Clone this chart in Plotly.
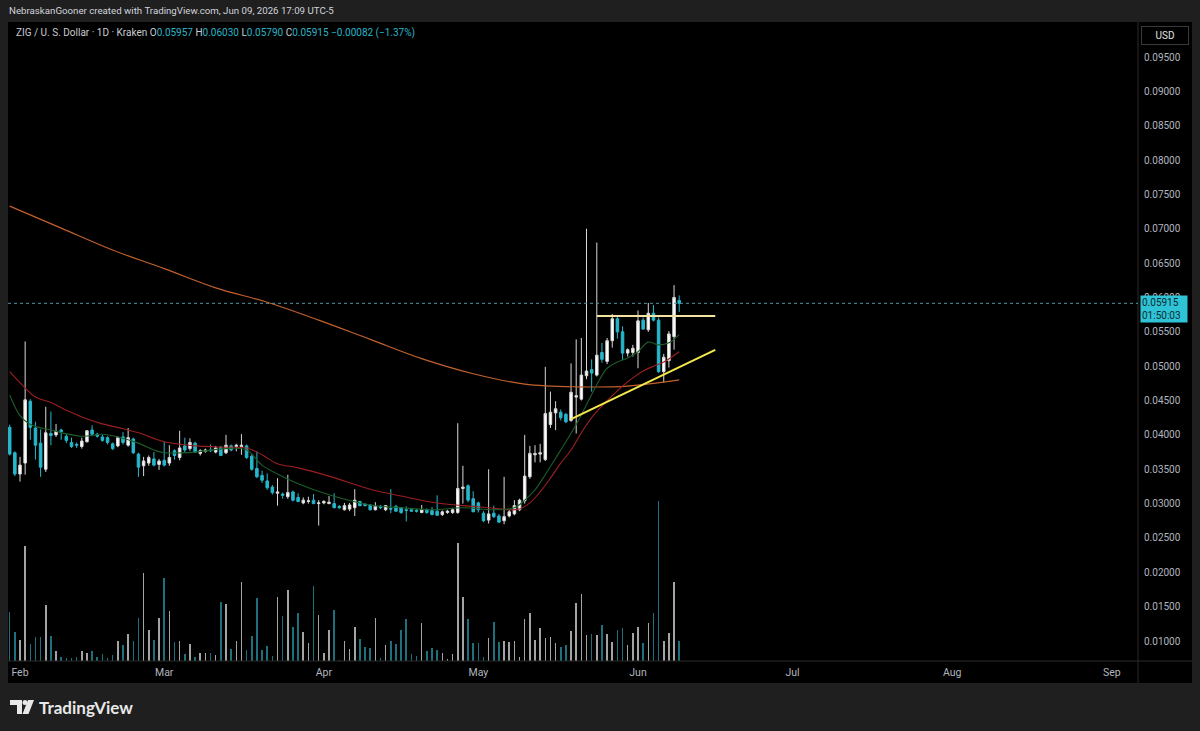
import pandas as pd
import plotly.graph_objects as go

# ---------------- data ----------------
start_date = "2026-01-30"
opens = [0.0411,0.0374,0.0343,0.0359,0.0449,0.0410,0.0388,0.0350,0.0402,0.0400,
         0.0407,0.0398,0.0389,0.0386,0.0383,0.0390,0.0407,0.0401,0.0397,0.0396,
         0.0387,0.0384,0.0397,0.0385,0.0394,0.0372,0.0355,0.0359,0.0365,0.0357,
         0.0363,0.0359,0.0377,0.0367,0.0384,0.0380,0.0388,0.0373,0.0376,0.0378,
         0.0375,0.0382,0.0374,0.0384,0.0383,0.0383,0.0384,0.0369,0.0351,0.0341,
         0.0333,0.0324,0.0315,0.0314,0.0310,0.0317,0.0309,0.0301,0.0303,0.0305,
         0.0300,0.0301,0.0300,0.0300,0.0296,0.0291,0.0292,0.0294,0.0303,0.0299,
         0.0298,0.0291,0.0296,0.0291,0.0293,0.0296,0.0294,0.0291,0.0291,0.0290,
         0.0287,0.0291,0.0290,0.0289,0.0284,0.0287,0.0287,0.0287,0.0322,0.0326,
         0.0307,0.0301,0.0286,0.0276,0.0286,0.0282,0.0275,0.0282,0.0285,0.0291,
         0.0304,0.0339,0.0371,0.0372,0.0364,0.0415,0.0432,0.0433,0.0430,0.0421,
         0.0455,0.0452,0.0486,0.0495,0.0487,0.0520,0.0507,0.0537,0.0569,0.0550,
         0.0519,0.0520,0.0520,0.0567,0.0553,0.0577,0.0567,0.0492,0.0508,0.0543,
         0.05957]
highs = [0.0415,0.0376,0.0368,0.0536,0.0452,0.0419,0.0408,0.0441,0.0434,0.0416,
         0.0409,0.0401,0.0396,0.0389,0.0396,0.0407,0.0414,0.0403,0.0400,0.0398,
         0.0389,0.0398,0.0404,0.0410,0.0396,0.0374,0.0368,0.0370,0.0375,0.0365,
         0.0390,0.0385,0.0379,0.0406,0.0396,0.0395,0.0390,0.0379,0.0380,0.0386,
         0.0384,0.0384,0.0400,0.0386,0.0387,0.0401,0.0386,0.0372,0.0376,0.0348,
         0.0344,0.0327,0.0337,0.0316,0.0342,0.0319,0.0315,0.0309,0.0310,0.0314,
         0.0305,0.0305,0.0311,0.0315,0.0298,0.0301,0.0301,0.0321,0.0304,0.0301,
         0.0299,0.0302,0.0298,0.0298,0.0321,0.0298,0.0295,0.0296,0.0293,0.0292,
         0.0298,0.0293,0.0295,0.0312,0.0290,0.0291,0.0293,0.0417,0.0355,0.0328,
         0.0318,0.0303,0.0289,0.0350,0.0297,0.0285,0.0339,0.0291,0.0305,0.0307,
         0.0400,0.0384,0.0385,0.0387,0.0499,0.0463,0.0449,0.0437,0.0432,0.0504,
         0.0539,0.0541,0.0700,0.0510,0.0680,0.0534,0.0541,0.0576,0.0572,0.0558,
         0.0526,0.0531,0.0581,0.0571,0.0592,0.0589,0.0571,0.0518,0.0551,0.0618,
         0.06030]
lows = [0.0370,0.0340,0.0332,0.0342,0.0393,0.0364,0.0339,0.0346,0.0385,0.0397,
        0.0393,0.0388,0.0381,0.0381,0.0380,0.0389,0.0398,0.0396,0.0390,0.0386,
        0.0378,0.0382,0.0386,0.0383,0.0372,0.0339,0.0340,0.0355,0.0354,0.0349,
        0.0354,0.0355,0.0364,0.0363,0.0374,0.0377,0.0374,0.0370,0.0374,0.0375,
        0.0373,0.0369,0.0372,0.0376,0.0376,0.0371,0.0365,0.0348,0.0337,0.0330,
        0.0320,0.0313,0.0297,0.0307,0.0307,0.0303,0.0302,0.0299,0.0300,0.0299,
        0.0268,0.0299,0.0299,0.0293,0.0292,0.0290,0.0289,0.0282,0.0296,0.0296,
        0.0290,0.0290,0.0292,0.0289,0.0286,0.0288,0.0285,0.0274,0.0288,0.0287,
        0.0286,0.0285,0.0283,0.0282,0.0282,0.0285,0.0285,0.0285,0.0300,0.0302,
        0.0288,0.0287,0.0273,0.0271,0.0279,0.0272,0.0270,0.0280,0.0283,0.0289,
        0.0300,0.0336,0.0360,0.0360,0.0362,0.0410,0.0407,0.0421,0.0417,0.0419,
        0.0402,0.0450,0.0481,0.0463,0.0485,0.0505,0.0503,0.0527,0.0540,0.0509,
        0.0514,0.0514,0.0497,0.0553,0.0550,0.0565,0.0490,0.0476,0.0498,0.0524,
        0.05790]
closes = [0.0372,0.0343,0.0356,0.0451,0.0411,0.0385,0.0353,0.0403,0.0399,0.0405,
          0.0405,0.0392,0.0383,0.0385,0.0391,0.0406,0.0401,0.0398,0.0392,0.0389,
          0.0380,0.0396,0.0389,0.0396,0.0374,0.0353,0.0362,0.0367,0.0356,0.0362,
          0.0356,0.0367,0.0370,0.0381,0.0378,0.0389,0.0375,0.0377,0.0378,0.0377,
          0.0381,0.0370,0.0385,0.0378,0.0385,0.0385,0.0367,0.0350,0.0339,0.0334,
          0.0323,0.0316,0.0317,0.0312,0.0316,0.0305,0.0303,0.0305,0.0304,0.0300,
          0.0301,0.0303,0.0302,0.0294,0.0294,0.0297,0.0298,0.0305,0.0297,0.0297,
          0.0291,0.0296,0.0294,0.0297,0.0292,0.0289,0.0287,0.0290,0.0289,0.0289,
          0.0291,0.0287,0.0284,0.0283,0.0288,0.0289,0.0291,0.0322,0.0324,0.0305,
          0.0288,0.0291,0.0275,0.0285,0.0281,0.0273,0.0281,0.0288,0.0297,0.0305,
          0.0340,0.0373,0.0373,0.0374,0.0431,0.0433,0.0438,0.0425,0.0419,0.0462,
          0.0457,0.0487,0.0493,0.0490,0.0516,0.0510,0.0537,0.0569,0.0550,0.0519,
          0.0524,0.0526,0.0566,0.0554,0.0577,0.0567,0.0492,0.0513,0.0547,0.0600,
          0.05915]
volumes = [49.3,29.3,21,115,17,24.3,24.3,56,25.3,10,
           4.3,3.3,2.7,4.3,10,8.3,10,4.3,6.7,2.7,
           6,20,16,26.7,20.3,42.7,87.7,31,21,42.7,
           82.7,50.3,18.7,20,6.7,17,4.3,7.7,7.7,7.7,
           6,58.7,57,12,20,79.3,11,25,62.7,11,
           15.3,5,64.3,45,71,33.7,48.3,29.3,17.7,75,
           46,7.7,31,51,1,20,12,34.3,21.7,13.7,
           13.3,43,2.7,16,20.3,16.7,31,41.7,6.7,5.3,
           38.3,10.3,13.3,11,7.7,2,7,118.3,64.3,41.7,
           17.7,17.7,4.3,22.7,39,18.7,20.3,18.7,20.3,4.3,
           42.3,47.7,21,33.3,22.7,24.3,18.3,13.7,16,30.3,
           57.7,66.7,26,26.7,26,36,27,19.3,31,33.3,
           16,27.7,33.7,18.3,37.7,48.3,160,20.3,27.7,79.3,
           20]

# moving averages at sample dates
ma_long_dates = ["2026-01-30","2026-02-09","2026-02-19","2026-03-01","2026-03-11","2026-03-21",
                 "2026-03-31","2026-04-10","2026-04-20","2026-04-30","2026-05-10","2026-05-20",
                 "2026-05-30","2026-06-09"]
ma_long_vals = [0.0733,0.0701,0.0669,0.0642,0.0614,0.0593,0.0567,0.0539,0.0511,0.0489,
                0.0474,0.0470,0.0471,0.0480]

ma_mid_dates = ["2026-01-30","2026-02-01","2026-02-04","2026-02-07","2026-02-10","2026-02-13",
                "2026-02-17","2026-02-21","2026-02-24","2026-03-01","2026-03-07","2026-03-13",
                "2026-03-17","2026-03-20","2026-03-23","2026-03-27","2026-04-02","2026-04-10",
                "2026-04-16","2026-04-22","2026-04-28","2026-05-03","2026-05-07","2026-05-09",
                "2026-05-11","2026-05-13","2026-05-15","2026-05-17","2026-05-19","2026-05-21",
                "2026-05-23","2026-05-25","2026-05-27","2026-05-29","2026-05-31","2026-06-02",
                "2026-06-04","2026-06-06","2026-06-09"]
ma_mid_vals = [0.0492,0.0476,0.0455,0.0447,0.0436,0.0426,0.0416,0.0409,0.0403,0.0390,
               0.0384,0.0382,0.0381,0.0371,0.0358,0.0352,0.0340,0.0321,0.0311,0.0302,
               0.0297,0.0294,0.0291,0.0292,0.0301,0.0317,0.0337,0.0359,0.0378,0.0403,
               0.0425,0.0442,0.0457,0.0471,0.0483,0.0493,0.0500,0.0506,0.0521]

ma_short_dates = ["2026-01-30","2026-02-01","2026-02-03","2026-02-07","2026-02-13","2026-02-17",
                  "2026-02-20","2026-02-24","2026-02-27","2026-03-01","2026-03-07","2026-03-13",
                  "2026-03-17","2026-03-20","2026-03-23","2026-03-27","2026-04-02","2026-04-10",
                  "2026-04-16","2026-04-22","2026-04-28","2026-05-04","2026-05-08","2026-05-10",
                  "2026-05-12","2026-05-14","2026-05-16","2026-05-18","2026-05-20","2026-05-22",
                  "2026-05-24","2026-05-26","2026-05-28","2026-05-30","2026-06-01","2026-06-03",
                  "2026-06-05","2026-06-07","2026-06-09"]
ma_short_vals = [0.0458,0.0428,0.0415,0.0407,0.0398,0.0401,0.0397,0.0388,0.0378,0.0374,
                 0.0375,0.0380,0.0378,0.0356,0.0343,0.0329,0.0313,0.0298,0.0294,0.0291,
                 0.0294,0.0291,0.0294,0.0305,0.0320,0.0342,0.0366,0.0390,0.0415,0.0444,
                 0.0473,0.0497,0.0506,0.0512,0.0521,0.0535,0.0531,0.0534,0.0546]

# user drawings
hline_dates = ["2026-05-24", "2026-06-16"]
hline_vals = [0.0573, 0.0573]
trend_dates = ["2026-05-19", "2026-06-16"]
trend_vals = [0.04228, 0.05237]

last_price = 0.05915
month_ticks = ["2026-02-01","2026-03-01","2026-04-01","2026-05-01","2026-06-01",
               "2026-07-01","2026-08-01","2026-09-01"]
month_labels = ["Feb","Mar","Apr","May","Jun","Jul","Aug","Sep"]
price_ticks = [0.01,0.015,0.02,0.025,0.03,0.035,0.04,0.045,0.05,0.055,0.06,0.065,
               0.07,0.075,0.08,0.085,0.09,0.095]

# ---------------- figure ----------------
dates = pd.date_range(start_date, periods=len(closes), freq="D")
UP = "#ffffff"
DOWN = "#26b7cb"
TXT = "#b2b5be"

W, H = 1200, 731
ML, MR, MT, MB = 8, 62, 22, 70
PW, PH = W - ML - MR, H - MT - MB


def px(x):
    return (x - ML) / PW


def py(y):
    return (H - MB - y) / PH


fig = go.Figure()

vol_colors = ["rgba(205,205,205,0.8)" if c >= o else "rgba(40,150,170,0.75)"
              for o, c in zip(opens, closes)]
fig.add_trace(go.Bar(x=dates, y=volumes, marker=dict(color=vol_colors, line=dict(width=0)),
                     width=0.3 * 86400000, yaxis="y2", hoverinfo="skip", showlegend=False))

fig.add_trace(go.Scatter(x=ma_long_dates, y=ma_long_vals, mode="lines",
                         line=dict(color="#c2612c", width=1.2, shape="spline"),
                         hoverinfo="skip", showlegend=False))
fig.add_trace(go.Scatter(x=ma_mid_dates, y=ma_mid_vals, mode="lines",
                         line=dict(color="#9c1f22", width=1.1, shape="spline"),
                         hoverinfo="skip", showlegend=False))
fig.add_trace(go.Scatter(x=ma_short_dates, y=ma_short_vals, mode="lines",
                         line=dict(color="#1b5e2a", width=1.1, shape="spline"),
                         hoverinfo="skip", showlegend=False))

fig.add_trace(go.Candlestick(x=dates, open=opens, high=highs, low=lows, close=closes,
                             increasing=dict(line=dict(color="#d8d8d8", width=1), fillcolor=UP),
                             decreasing=dict(line=dict(color=DOWN, width=1), fillcolor=DOWN),
                             whiskerwidth=0, hoverinfo="skip", showlegend=False))

fig.add_trace(go.Scatter(x=hline_dates, y=hline_vals, mode="lines",
                         line=dict(color="#f3e2a4", width=2), hoverinfo="skip", showlegend=False))
fig.add_trace(go.Scatter(x=trend_dates, y=trend_vals, mode="lines",
                         line=dict(color="#f5e84a", width=2), hoverinfo="skip", showlegend=False))

shapes = [
    # black chart panel incl. axes
    dict(type="rect", xref="paper", yref="paper", x0=px(8), x1=px(1192), y0=py(683), y1=py(22),
         fillcolor="#000000", line=dict(width=0), layer="below"),
    # separators
    dict(type="line", xref="paper", yref="paper", x0=px(1138), x1=px(1138), y0=py(683), y1=py(22),
         line=dict(color="#2a2a2a", width=1)),
    dict(type="line", xref="paper", yref="paper", x0=px(8), x1=px(1192), y0=py(661), y1=py(661),
         line=dict(color="#2a2a2a", width=1)),
    # last price dotted line
    dict(type="line", xref="paper", yref="y", x0=0, x1=1, y0=last_price, y1=last_price,
         line=dict(color="#4f98a4", width=1, dash="dot")),
    # TradingView logo
    dict(type="path", xref="paper", yref="paper",
         path=f"M {px(10)} {py(700)} L {px(22)} {py(700)} L {px(22)} {py(714)} L {px(17)} {py(714)} "
              f"L {px(17)} {py(705)} L {px(10)} {py(705)} Z",
         fillcolor="#e8e8e8", line=dict(width=0)),
    dict(type="circle", xref="paper", yref="paper", x0=px(22.5), x1=px(27.5), y0=py(705), y1=py(700),
         fillcolor="#e8e8e8", line=dict(width=0)),
    dict(type="path", xref="paper", yref="paper",
         path=f"M {px(28)} {py(700)} L {px(34)} {py(700)} L {px(28.5)} {py(714)} L {px(22.5)} {py(714)} Z",
         fillcolor="#e8e8e8", line=dict(width=0)),
]

teal = "#2ab4c6"
legend_txt = ("ZIG / U. S. Dollar · 1D · Kraken "
              f"O<span style='color:{teal}'>0.05957</span> "
              f"H<span style='color:{teal}'>0.06030</span> "
              f"L<span style='color:{teal}'>0.05790</span> "
              f"C<span style='color:{teal}'>0.05915</span> "
              f"<span style='color:{teal}'>−0.00082 (−1.37%)</span>")

annotations = [
    dict(text="NebraskanGooner created with TradingView.com, Jun 09, 2026 17:09 UTC-5",
         xref="paper", yref="paper", x=px(7), y=py(11), xanchor="left", yanchor="middle",
         showarrow=False, font=dict(size=9.7, color="#d1d4dc")),
    dict(text=legend_txt, xref="paper", yref="paper", x=px(14), y=py(33), xanchor="left",
         yanchor="middle", showarrow=False, font=dict(size=10, color="#c8cbd2")),
    dict(text="USD", xref="paper", yref="paper", x=px(1164.5), y=py(36), xanchor="center",
         yanchor="middle", showarrow=False, font=dict(size=10, color="#e0e0e0"),
         bordercolor="#3a3a3a", borderwidth=1, borderpad=3, bgcolor="#000000", width=40),
    dict(text="0.05915<br>01:50:03", xref="paper", yref="paper", x=px(1140), y=py(309),
         xanchor="left", yanchor="middle", showarrow=False, align="left",
         font=dict(size=10, color="#0b2a30"), bgcolor="#2ec4d6", borderpad=1, width=44),
    dict(text="<b>TradingView</b>", xref="paper", yref="paper", x=px(37), y=py(707),
         xanchor="left", yanchor="middle", showarrow=False,
         font=dict(size=17, color="#e8e8e8", family="Lato")),
]

x_left = pd.Timestamp("2026-02-01") + pd.Timedelta(days=(ML - 20) / 5.15)
x_right = pd.Timestamp("2026-02-01") + pd.Timedelta(days=(ML + PW - 20) / 5.15)
y_lo = 0.01 - (H - MB - 641) / 6870.6
y_hi = 0.095 + (57 - MT) / 6870.6

fig.update_layout(
    width=W, height=H, margin=dict(l=ML, r=MR, t=MT, b=MB),
    paper_bgcolor="#1f1f1f", plot_bgcolor="#000000",
    font=dict(family="Roboto", color=TXT, size=10),
    showlegend=False, bargap=0,
    xaxis=dict(type="date", range=[x_left, x_right], showgrid=False, zeroline=False,
               tickvals=month_ticks, ticktext=month_labels, ticks="", showline=False,
               tickfont=dict(size=10.5, color=TXT), rangeslider=dict(visible=False),
               ticklabelstandoff=3, fixedrange=True),
    yaxis=dict(side="right", range=[y_lo, y_hi], showgrid=False, zeroline=False,
               tickvals=price_ticks, tickformat=".5f", ticks="", showline=False,
               tickfont=dict(size=10, color=TXT), ticklabelstandoff=5, fixedrange=True),
    yaxis2=dict(overlaying="y", range=[0, PH], visible=False, fixedrange=True),
    shapes=shapes, annotations=annotations,
)

fig.write_html("out.html")
